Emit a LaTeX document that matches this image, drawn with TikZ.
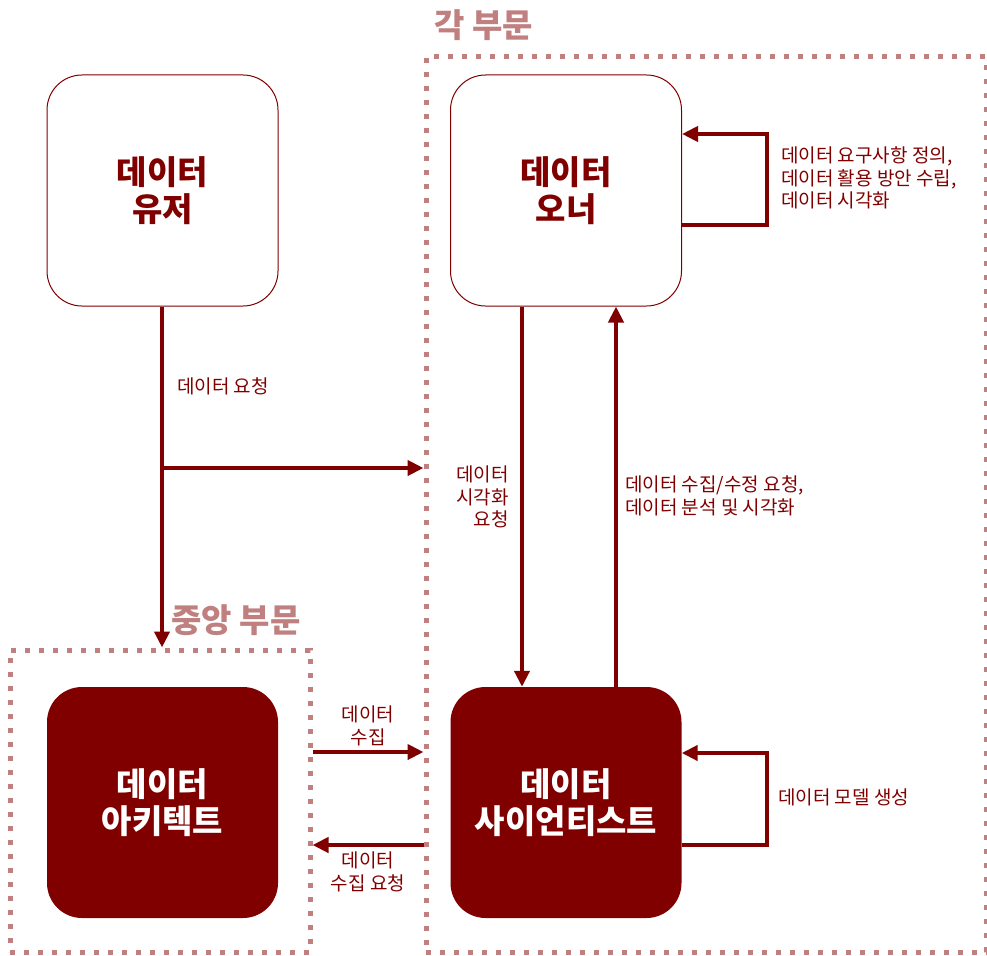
\documentclass[tikz,border=0pt]{standalone}
\usepackage{fontspec}
\setmainfont{Noto Sans CJK KR}
\usetikzlibrary{arrows.meta,calc}
\definecolor{dred}{HTML}{800000}
\definecolor{rose}{HTML}{C08080}
\begin{document}
\begin{tikzpicture}[x=1pt,y=-1pt,
 box/.style={rounded corners=35pt, minimum width=231pt, minimum height=231pt, align=center, font=\fontsize{33}{37}\selectfont\bfseries, inner sep=0pt},
 wbox/.style={box, draw=dred, line width=1pt, fill=white, text=dred},
 dbox/.style={box, fill=dred, text=white},
 region/.style={draw=rose, line width=5pt, dash pattern=on 5pt off 9pt, inner sep=0pt},
 regtitle/.style={text=rose, font=\fontsize{33}{36}\selectfont\bfseries, inner sep=0pt},
 conn/.style={draw=dred, line width=4pt, -{Triangle[length=16pt,width=15pt]}},
 lbl/.style={text=dred, font=\fontsize{19}{22.5}\selectfont, inner sep=0pt}
]
\useasboundingbox (0,0) rectangle (987,955);
% regions
\node[region, minimum width=560pt, minimum height=895pt] (each) at (706,504.5) {};
\node[region, minimum width=300pt, minimum height=302pt] (central) at (160,801) {};
\node[regtitle] (eachT) at (484,25) {각 부문};
\node[regtitle] (centralT) at (236,620) {중앙 부문};
% boxes
\node[wbox] (user) at (162.5,190.5) {데이터\\유저};
\node[wbox] (owner) at (566,190.5) {데이터\\오너};
\node[dbox] (arch) at (162.5,802.5) {데이터\\아키텍트};
\node[dbox] (sci) at (566,802.5) {데이터\\사이언티스트};
% connectors
\coordinate (split) at (162,468);
\draw[conn] (user.south -| split) -- (central.north -| split);
\draw[conn] (split) -- (each.west |- split);
\node[lbl, anchor=west] (l1) at (177,386) {데이터 요청};

\draw[conn] (owner.south -| 522,0) -- (sci.north -| 522,0);
\node[lbl, align=right, anchor=east] (l2) at (509,497) {데이터\\시각화\\요청};
\draw[conn] (sci.north -| 616,0) -- (owner.south -| 616,0);
\node[lbl, align=left, anchor=west] (l3) at (625,496) {데이터 수집/수정 요청,\\데이터 분석 및 시각화};

\draw[conn] (owner.east |- 0,225) -- (767,225) -- (767,134) -- (owner.east |- 0,134);
\node[lbl, align=left, anchor=west] (l4) at (781,178) {데이터 요구사항 정의,\\데이터 활용 방안 수립,\\데이터 시각화};
\draw[conn] (sci.east |- 0,845) -- (767,845) -- (767,753) -- (sci.east |- 0,753);
\node[lbl, anchor=west] (l5) at (778,797) {데이터 모델 생성};

\draw[conn] (central.east |- 0,752) -- (each.west |- 0,752);
\node[lbl, align=center] (l6) at (368,726) {데이터\\수집};
\draw[conn] (each.west |- 0,845) -- (central.east |- 0,845);
\node[lbl, align=center] (l7) at (368,872) {데이터\\수집 요청};
\end{tikzpicture}
\end{document}
